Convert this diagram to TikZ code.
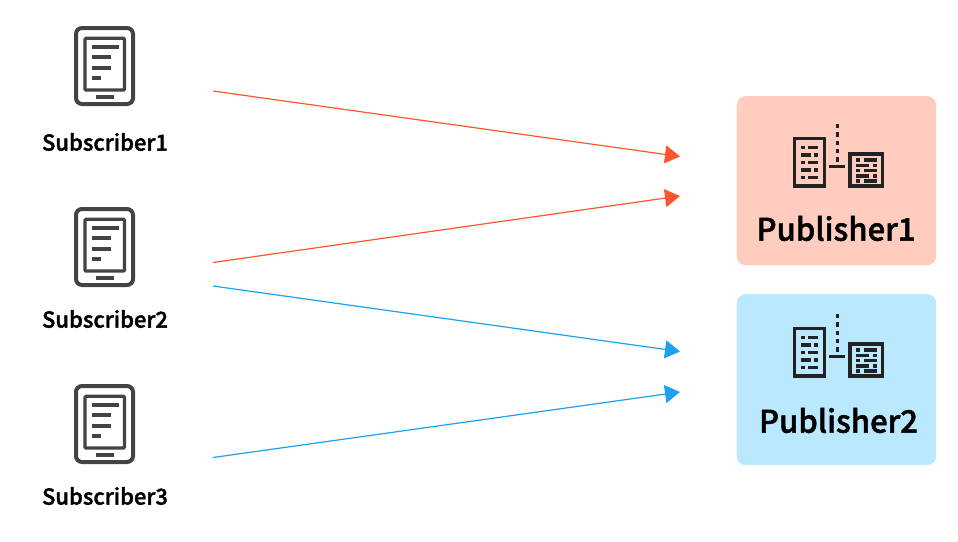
\documentclass[tikz,border=0pt]{standalone}
\usepackage{fontspec}
\usetikzlibrary{arrows.meta}
\newfontfamily\labfont[FakeBold=1.6]{Noto Sans CJK JP Medium}
\definecolor{orangeline}{HTML}{FF5630}
\definecolor{blueline}{HTML}{1DA1F2}
\definecolor{pubone}{HTML}{FFCCBF}
\definecolor{pubtwo}{HTML}{B9E8FF}
\definecolor{icongrey}{HTML}{434343}
\definecolor{icondark}{HTML}{222222}
\tikzset{
  x=1pt,y=-1pt,
  sublabel/.style={font=\labfont\fontsize{22}{24}\selectfont,text=black,inner sep=0pt,anchor=center},
  publabel/.style={font=\labfont\fontsize{31}{34}\selectfont,text=black,inner sep=0pt,anchor=center},
  pubbox/.style={rounded corners=9pt,minimum width=199.5pt,inner sep=0pt,draw=none,anchor=north west},
  link/.style={line width=1.2pt,-{Triangle[length=15pt,width=18pt]},shorten >=0pt},
  tablet/.pic={
    \draw[icongrey,line width=4pt,rounded corners=6pt] (76,28) rectangle (133,104);
    \draw[icongrey,line width=3.2pt,rounded corners=1pt] (85,38.3) rectangle (124.5,90);
    \foreach \yy/\xx in {47/118.5,57.3/110.5,67.7/110.5,78.3/101}
      \fill[icongrey] (91.5,\yy-2) rectangle (\xx,\yy+2);
    \fill[icongrey] (96,94.7) rectangle (114,98.7);
  },
  bldg/.pic={
    \draw[icondark,line width=3.2pt] (794.4,138.4) rectangle (824.2,186);
    \draw[icondark,line width=3.2pt] (850,154) rectangle (882.3,186);
    \foreach \ya/\yb in {124/128.3,132.3/136.7,140.7/145,149/153,157/162}
      \fill[icondark] (835.7,\ya) rectangle (839,\yb);
    \fill[icondark] (829.3,164.7) rectangle (845,168);
    \foreach \yy in {147.3,162.3,177.3}{
      \fill[icondark] (801,\yy-1.6) rectangle (804.7,\yy+1.6);
      \fill[icondark] (807.7,\yy-1.6) rectangle (817.7,\yy+1.6);}
    \foreach \yy in {155,170}{
      \fill[icondark] (801,\yy-1.6) rectangle (811,\yy+1.6);
      \fill[icondark] (814,\yy-1.6) rectangle (817.7,\yy+1.6);}
    \foreach \yy in {160,170.7,181}{
      \fill[icondark] (856,\yy-1.6) rectangle (860.3,\yy+1.6);
      \fill[icondark] (864.3,\yy-1.6) rectangle (877,\yy+1.6);}
    \foreach \yy in {165.5,176}{
      \fill[icondark] (856,\yy-1.6) rectangle (868.7,\yy+1.6);
      \fill[icondark] (872.7,\yy-1.6) rectangle (877,\yy+1.6);}
  }
}
\begin{document}
\begin{tikzpicture}
\useasboundingbox (0,0) rectangle (958,541);
\fill[white] (0,0) rectangle (958,541);
\node[pubbox,fill=pubone,minimum height=169pt] (boxone) at (736.5,96) {};
\node[pubbox,fill=pubtwo,minimum height=171pt] (boxtwo) at (736.5,294) {};
\pic at (0,0) {tablet};
\pic at (0,181) {tablet};
\pic at (0,358) {tablet};
\pic at (0,0) {bldg};
\pic at (0,190) {bldg};
\node[sublabel] (subone) at (105,142) {Subscriber1};
\node[sublabel] (subtwo) at (105,319) {Subscriber2};
\node[sublabel] (subthree) at (105,496) {Subscriber3};
\node[publabel] (pubonelabel) at (836,228.5) {Publisher1};
\node[publabel] (pubtwolabel) at (838.5,420.5) {Publisher2};
\coordinate (sa) at (213,91);
\coordinate (sb) at (213,262.5);
\coordinate (sc) at (213,286);
\coordinate (sd) at (213,457.5);
\coordinate (ta) at (680,156.5);
\coordinate (tb) at (680,196);
\coordinate (tc) at (680,351.5);
\coordinate (td) at (680,392);
\draw[link,orangeline] (sa) -- (ta);
\draw[link,orangeline] (sb) -- (tb);
\draw[link,blueline] (sc) -- (tc);
\draw[link,blueline] (sd) -- (td);
\end{tikzpicture}
\end{document}
